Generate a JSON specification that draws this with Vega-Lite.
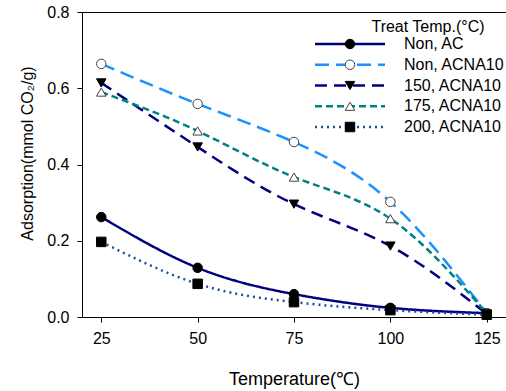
{
  "$schema": "https://vega.github.io/schema/vega-lite/v6.json",
  "width": 424,
  "height": 305,
  "autosize": "none",
  "padding": {"left": 82, "top": 12, "right": 0, "bottom": 74},
  "background": "white",
  "config": {
    "view": {"stroke": null},
    "font": "Liberation Sans",
    "axis": {
      "grid": false,
      "domainColor": "black",
      "tickColor": "black",
      "labelColor": "black",
      "titleColor": "black",
      "labelFont": "Liberation Sans",
      "titleFont": "Liberation Sans",
      "labelFontSize": 16,
      "titleFontSize": 16,
      "titleFontWeight": "normal",
      "tickSize": 5,
      "domainWidth": 1
    },
    "legend": {
      "labelFont": "Liberation Sans",
      "titleFont": "Liberation Sans",
      "labelFontSize": 16,
      "titleFontSize": 16,
      "titleFontWeight": "normal",
      "labelColor": "black",
      "titleColor": "black"
    }
  },
  "data": {
    "values": [
      {"series": "Non, AC", "temp": 25, "ads": 0.262},
      {"series": "Non, AC", "temp": 50, "ads": 0.129},
      {"series": "Non, AC", "temp": 75, "ads": 0.06},
      {"series": "Non, AC", "temp": 100, "ads": 0.024},
      {"series": "Non, AC", "temp": 125, "ads": 0.01},
      {"series": "Non, ACNA10", "temp": 25, "ads": 0.664},
      {"series": "Non, ACNA10", "temp": 50, "ads": 0.559},
      {"series": "Non, ACNA10", "temp": 75, "ads": 0.459},
      {"series": "Non, ACNA10", "temp": 100, "ads": 0.302},
      {"series": "Non, ACNA10", "temp": 125, "ads": 0.01},
      {"series": "150, ACNA10", "temp": 25, "ads": 0.614},
      {"series": "150, ACNA10", "temp": 50, "ads": 0.446},
      {"series": "150, ACNA10", "temp": 75, "ads": 0.296},
      {"series": "150, ACNA10", "temp": 100, "ads": 0.186},
      {"series": "150, ACNA10", "temp": 125, "ads": 0.008},
      {"series": "175, ACNA10", "temp": 25, "ads": 0.59},
      {"series": "175, ACNA10", "temp": 50, "ads": 0.488},
      {"series": "175, ACNA10", "temp": 75, "ads": 0.367},
      {"series": "175, ACNA10", "temp": 100, "ads": 0.258},
      {"series": "175, ACNA10", "temp": 125, "ads": 0.01},
      {"series": "200, ACNA10", "temp": 25, "ads": 0.197},
      {"series": "200, ACNA10", "temp": 50, "ads": 0.087},
      {"series": "200, ACNA10", "temp": 75, "ads": 0.039},
      {"series": "200, ACNA10", "temp": 100, "ads": 0.018},
      {"series": "200, ACNA10", "temp": 125, "ads": 0.006}
    ]
  },
  "layer": [
    {
      "mark": {"type": "line", "interpolate": "natural", "strokeWidth": 2.5},
      "encoding": {
        "x": {
          "field": "temp", "type": "quantitative",
          "scale": {"domain": [20, 130], "nice": false, "zero": false},
          "axis": {"orient": "bottom", "values": [25, 50, 75, 100, 125], "title": "Temperature(℃)", "titleFontSize": 18, "labelPadding": 8, "titleY": 62, "titleBaseline": "middle"}
        },
        "y": {
          "field": "ads", "type": "quantitative",
          "scale": {"domain": [0, 0.8], "nice": false},
          "axis": {"orient": "left", "values": [0, 0.2, 0.4, 0.6, 0.8], "format": ".1f", "title": "Adsorption(mmol CO₂/g)", "labelPadding": 8, "titleX": -55, "titleY": 141, "titleBaseline": "middle", "titleAlign": "center"}
        },
        "color": {
          "field": "series", "type": "nominal",
          "scale": {"domain": ["Non, AC", "Non, ACNA10", "150, ACNA10", "175, ACNA10", "200, ACNA10"], "range": ["#000080", "#1E90FF", "#000080", "#008080", "#1A4FA0"]},
          "legend": {"orient": "none", "legendX": 260, "legendY": 24, "title": null, "symbolType": "M-7,0H7", "symbolSize": 100, "symbolStrokeWidth": 2.5, "labelOffset": 46, "rowPadding": 4.75, "padding": 0}
        },
        "strokeDash": {
          "field": "series", "type": "nominal",
          "scale": {"domain": ["Non, AC", "Non, ACNA10", "150, ACNA10", "175, ACNA10", "200, ACNA10"], "range": [[1, 0], [14, 7], [12, 7], [7, 4], [2, 4]]},
          "legend": {"orient": "none", "legendX": 260, "legendY": 24, "title": null, "symbolType": "M-7,0H7", "symbolSize": 100, "symbolStrokeWidth": 2.5, "labelOffset": 46, "rowPadding": 4.75, "padding": 0}
        }
      }
    },
    {
      "transform": [{"calculate": "datum.series + ' '", "as": "mk"}],
      "mark": {"type": "point", "opacity": 1, "strokeWidth": 1, "size": 90},
      "encoding": {
        "x": {"field": "temp", "type": "quantitative", "axis": null},
        "y": {"field": "ads", "type": "quantitative", "axis": {"orient": "left", "values": [0, 0.2, 0.4, 0.6, 0.8], "format": ".1f", "title": "Adsorption(mmol CO₂/g)", "labelPadding": 8, "titleX": -55, "titleY": 141, "titleBaseline": "middle", "titleAlign": "center"}},
        "shape": {
          "field": "mk", "type": "nominal",
          "scale": {"domain": ["Non, AC ", "Non, ACNA10 ", "150, ACNA10 ", "175, ACNA10 ", "200, ACNA10 "], "range": ["circle", "circle", "triangle-down", "triangle-up", "square"]},
          "legend": {"orient": "none", "legendX": 260, "legendY": 7, "title": "Treat Temp.(°C)", "titleFontWeight": "normal", "titleAnchor": "middle", "titlePadding": 1, "symbolSize": 90, "symbolStrokeWidth": 1, "labelExpr": "''", "labelOffset": 156, "rowPadding": 4.75, "padding": 0}
        },
        "fill": {
          "field": "mk", "type": "nominal",
          "scale": {"domain": ["Non, AC ", "Non, ACNA10 ", "150, ACNA10 ", "175, ACNA10 ", "200, ACNA10 "], "range": ["black", "white", "black", "white", "black"]},
          "legend": {"orient": "none", "legendX": 260, "legendY": 7, "title": "Treat Temp.(°C)", "titleFontWeight": "normal", "titleAnchor": "middle", "titlePadding": 1, "symbolSize": 90, "symbolStrokeWidth": 1, "labelExpr": "''", "labelOffset": 156, "rowPadding": 4.75, "padding": 0}
        },
        "stroke": {
          "field": "mk", "type": "nominal",
          "scale": {"domain": ["Non, AC ", "Non, ACNA10 ", "150, ACNA10 ", "175, ACNA10 ", "200, ACNA10 "], "range": ["black", "#444444", "black", "#444444", "black"]},
          "legend": {"orient": "none", "legendX": 260, "legendY": 7, "title": "Treat Temp.(°C)", "titleFontWeight": "normal", "titleAnchor": "middle", "titlePadding": 1, "symbolSize": 90, "symbolStrokeWidth": 1, "labelExpr": "''", "labelOffset": 156, "rowPadding": 4.75, "padding": 0}
        }
      }
    },
    {
      "mark": {"type": "line", "opacity": 0},
      "encoding": {
        "x": {"field": "temp", "type": "quantitative", "axis": {"orient": "top", "labels": false, "ticks": false, "title": null}},
        "y": {"field": "ads", "type": "quantitative", "axis": {"orient": "left", "values": [0, 0.2, 0.4, 0.6, 0.8], "format": ".1f", "title": "Adsorption(mmol CO₂/g)", "labelPadding": 8, "titleX": -55, "titleY": 141, "titleBaseline": "middle", "titleAlign": "center"}}
      }
    }
  ]
}
